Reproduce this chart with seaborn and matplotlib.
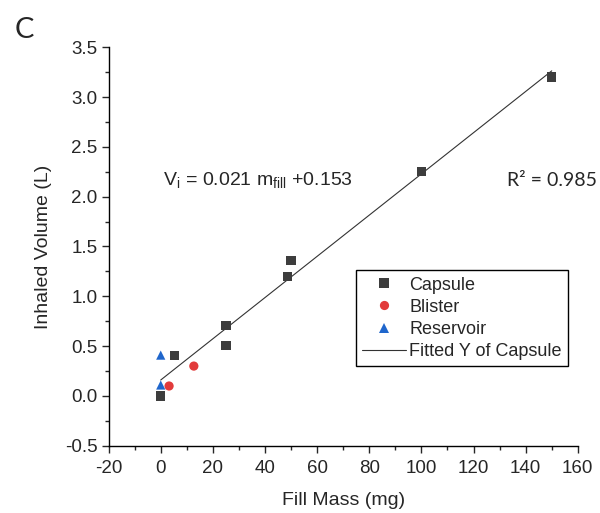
import numpy as np
import pandas as pd
import matplotlib
matplotlib.use("Agg")
import matplotlib.pyplot as plt
import seaborn as sns

# values
capsule_mass = [0, 5.4, 25, 25, 48.7, 50, 100, 150]
capsule_vol = [0.0, 0.41, 0.51, 0.71, 1.20, 1.36, 2.25, 3.20]
blister_mass = [3.2, 12.7]
blister_vol = [0.10, 0.30]
reservoir_mass = [0, 0]
reservoir_vol = [0.11, 0.41]

df = pd.DataFrame({
    "mass": capsule_mass + blister_mass + reservoir_mass,
    "vol": capsule_vol + blister_vol + reservoir_vol,
    "type": ["Capsule"] * len(capsule_mass) + ["Blister"] * len(blister_mass)
    + ["Reservoir"] * len(reservoir_mass),
})
caps = df[df["type"] == "Capsule"]

sns.set_style("ticks")
plt.rcParams["font.family"] = ["Liberation Sans", "DejaVu Sans"]
plt.rcParams["mathtext.fontset"] = "custom"
plt.rcParams["mathtext.rm"] = "Liberation Sans"
plt.rcParams["axes.unicode_minus"] = False

fig = plt.figure(figsize=(6, 5.13), dpi=100)
ax = fig.add_axes([0.181, 0.131, 0.782, 0.777])

palette = {"Capsule": "#3d3d3d", "Blister": "#e23b3b", "Reservoir": "#1f66cc"}
markers = {"Capsule": "s", "Blister": "o", "Reservoir": "^"}

sns.regplot(data=caps, x="mass", y="vol", scatter=False, ci=None, ax=ax,
            label="Fitted Y of Capsule",
            line_kws={"color": "#333333", "lw": 0.8})
sns.scatterplot(data=df, x="mass", y="vol", hue="type", style="type",
                palette=palette, markers=markers, s=44, linewidth=0, ax=ax,
                zorder=3)

ax.set_xlim(-20, 160)
ax.set_ylim(-0.5, 3.5)
ax.set_xticks(np.arange(-20, 161, 20))
ax.set_yticks(np.arange(-0.5, 3.51, 0.5))
ax.set_yticklabels([f"{v:.1f}" for v in np.arange(-0.5, 3.51, 0.5)])
ax.set_xticks(np.arange(-10, 160, 20), minor=True)
ax.set_yticks(np.arange(-0.25, 3.5, 0.5), minor=True)
ax.tick_params(which="major", direction="out", length=5, width=1, labelsize=13.5, pad=3)
ax.tick_params(axis="x", which="major", pad=5)
ax.tick_params(which="minor", direction="out", length=2.7, width=1)
for side in ["top", "right"]:
    ax.spines[side].set_visible(False)
for side in ["left", "bottom"]:
    ax.spines[side].set_linewidth(1)
    ax.spines[side].set_color("black")

ax.set_xlabel("Fill Mass (mg)", fontsize=14, labelpad=11)
ax.set_ylabel("Inhaled Volume (L)", fontsize=14, labelpad=9)

ax.text(1, 2.16, r"V$_\mathregular{i}$ = 0.021 m$_\mathregular{fill}$ +0.153",
        fontsize=14, va="center", ha="left")
ax.text(132.8, 2.16, "R\u00b2 = 0.985", fontsize=14, family=["Lato", "DejaVu Sans"],
        va="center", ha="left", clip_on=False)
fig.text(0.025, 0.942, "C", fontsize=21, family=["Lato", "DejaVu Sans"],
         va="center", ha="left")

handles, labels = ax.get_legend_handles_labels()
order = [labels.index(n) for n in ["Capsule", "Blister", "Reservoir", "Fitted Y of Capsule"]]
leg = ax.legend([handles[i] for i in order], [labels[i] for i in order],
                loc="upper left", bbox_to_anchor=(0.527, 0.44), fontsize=13,
                frameon=True, fancybox=False, edgecolor="black", framealpha=1,
                handlelength=2.4, handletextpad=0.2, borderpad=0.35,
                labelspacing=0.28, borderaxespad=0)
leg.get_frame().set_linewidth(1)

fig.savefig("out.png", dpi=100)
